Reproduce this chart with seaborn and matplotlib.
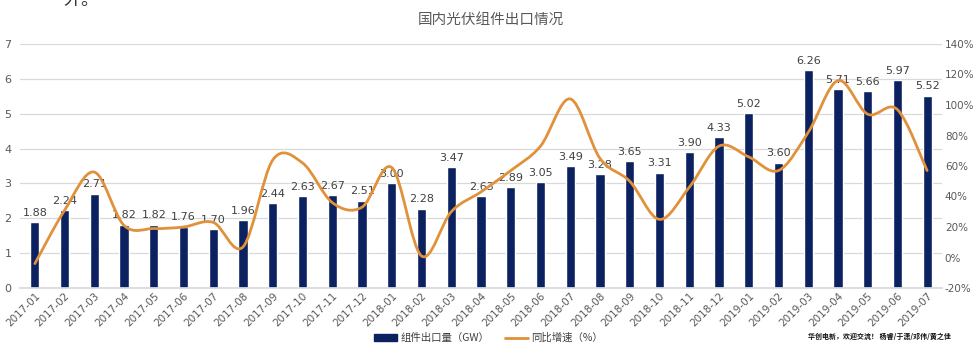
import numpy as np
import pandas as pd
import matplotlib
matplotlib.use("Agg")
import matplotlib.pyplot as plt
from matplotlib.path import Path
from matplotlib.patches import PathPatch, Patch
from matplotlib.lines import Line2D
import seaborn as sns

months = ["2017-01", "2017-02", "2017-03", "2017-04", "2017-05", "2017-06", "2017-07", "2017-08",
          "2017-09", "2017-10", "2017-11", "2017-12", "2018-01", "2018-02", "2018-03", "2018-04",
          "2018-05", "2018-06", "2018-07", "2018-08", "2018-09", "2018-10", "2018-11", "2018-12",
          "2019-01", "2019-02", "2019-03", "2019-04", "2019-05", "2019-06", "2019-07"]
export_gw = [1.88, 2.24, 2.71, 1.82, 1.82, 1.76, 1.70, 1.96, 2.44, 2.63, 2.67, 2.51, 3.00, 2.28,
             3.47, 2.63, 2.89, 3.05, 3.49, 3.28, 3.65, 3.31, 3.90, 4.33, 5.02, 3.60, 6.26, 5.71,
             5.66, 5.97, 5.52]
yoy_pct = [-4, 31, 56, 21, 19, 20, 23, 7, 64, 62, 36, 33, 59, 1, 30, 43, 57, 73, 104, 65, 50,
           25, 46, 73, 66, 57, 82, 116, 94, 97, 57]

title = "国内光伏组件出口情况"
bar_label = "组件出口量（GW）"
line_label = "同比增速（%）"
left_ticks = [0, 1, 2, 3, 4, 5, 6, 7]
right_ticks = [-20, 0, 20, 40, 60, 80, 100, 120, 140]

NAVY = "#0c2160"
ORANGE = "#E0913A"
GRAY = "#595959"

sns.set_theme(style="white")
plt.rcParams["font.family"] = ["Noto Sans CJK SC", "DejaVu Sans"]

fig = plt.figure(figsize=(9.77, 3.52), dpi=100)
ax = fig.add_axes([20 / 977, 1 - 288 / 352, (942 - 20) / 977, (288 - 44) / 352])

df = pd.DataFrame({"month": months, "export": export_gw})
sns.barplot(data=df, x="month", y="export", color=NAVY, width=0.31, ax=ax,
            saturation=1, zorder=2)
ax.set_ylim(0, 7)
ax.set_yticks(left_ticks)
ax.set_xlim(-0.5, len(months) - 0.5)
ax.set_xlabel("")
ax.set_ylabel("")
ax.yaxis.grid(True, color="#d9d9d9", linewidth=0.9, zorder=0)
ax.set_axisbelow(True)
for s in ["top", "right", "left"]:
    ax.spines[s].set_visible(False)
ax.spines["bottom"].set_color("#d9d9d9")
ax.tick_params(axis="y", labelsize=8, colors=GRAY, pad=6, length=0, left=False)
ax.tick_params(axis="x", labelsize=7.5, colors=GRAY, length=0, pad=2)
plt.setp(ax.get_yticklabels(), family="DejaVu Sans")
for lbl in ax.get_xticklabels():
    lbl.set_rotation(45)
    lbl.set_ha("right")
    lbl.set_rotation_mode("anchor")
    lbl.set_family("DejaVu Sans")

for c in ax.containers:
    ax.bar_label(c, fmt="%.2f", padding=3, fontsize=8, color="#404040", family="DejaVu Sans")

ax2 = ax.twinx()
ax2.set_ylim(-20, 140)
ax2.set_yticks(right_ticks)
ax2.set_yticklabels([f"{v}%" for v in right_ticks], family="DejaVu Sans")
ax2.tick_params(axis="y", labelsize=7.5, colors=GRAY, length=0, pad=2)
for s in ax2.spines.values():
    s.set_visible(False)
ax2.grid(False)

# smooth (Excel-style) curve through the data points
xs = np.arange(len(yoy_pct), dtype=float)
ys = np.array(yoy_pct, dtype=float)
pts = np.column_stack([xs, ys])
verts = [pts[0]]
codes = [Path.MOVETO]
n = len(pts)
for i in range(n - 1):
    p0 = pts[i - 1] if i > 0 else pts[i]
    p1 = pts[i]
    p2 = pts[i + 1]
    p3 = pts[i + 2] if i + 2 < n else pts[i + 1]
    c1 = p1 + (p2 - p0) / 6.0
    c2 = p2 - (p3 - p1) / 6.0
    verts += [c1, c2, p2]
    codes += [Path.CURVE4] * 3
patch = PathPatch(Path(verts, codes), facecolor="none", edgecolor=ORANGE, linewidth=2.0,
                  transform=ax2.transData, zorder=3, capstyle="round")
ax2.add_patch(patch)

fig.text(0.502, 1 - 20 / 352, title, ha="center", va="center", fontsize=10.5, color="#595959")
fig.text(0.065, 1.0, "外。", ha="left", va="center", fontsize=13, color="#333333")

handles = [Patch(facecolor=NAVY, edgecolor=NAVY),
           Line2D([0], [0], color=ORANGE, linewidth=2)]
fig.legend(handles, [bar_label, line_label], loc="center", bbox_to_anchor=(0.5, 1 - 338 / 352),
           ncol=2, frameon=False, fontsize=7.5, handlelength=2.2, handleheight=0.6,
           columnspacing=1.5, handletextpad=0.3, labelcolor="#404040")

fig.text(808 / 977, 1 - 336 / 352, "华创电新，欢迎交流！ 杨睿/于潇/邓伟/黄之佳", ha="left", va="center",
         fontsize=5, color="#111111", fontweight="bold")

fig.savefig("out.png", dpi=100)
